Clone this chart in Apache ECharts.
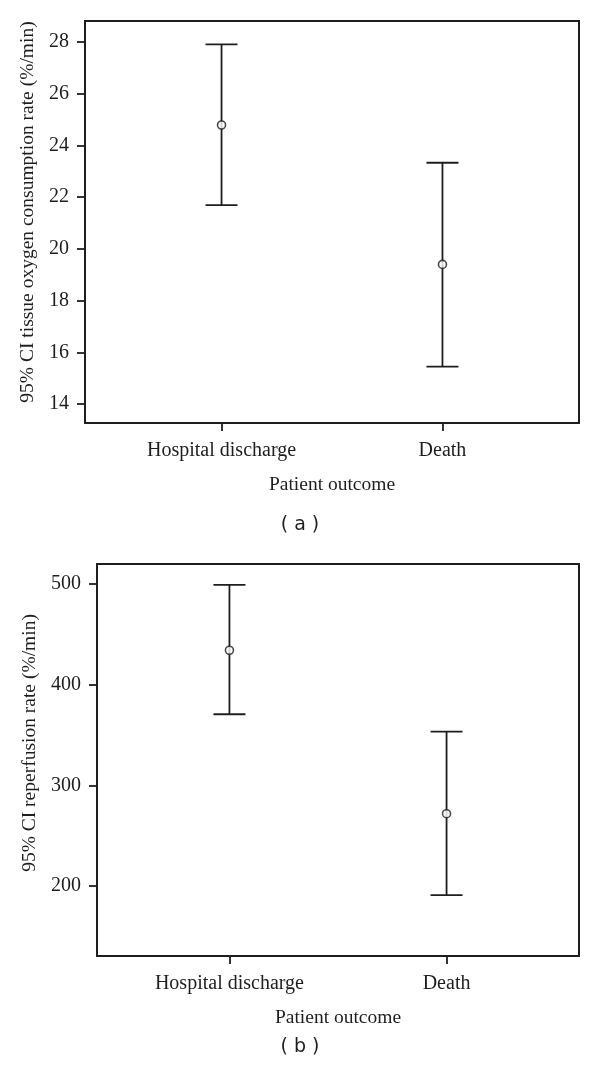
<!DOCTYPE html>
<html>
<head>
<meta charset="utf-8">
<script src="https://cdn.jsdelivr.net/npm/echarts@6/dist/echarts.min.js"></script>
<style>
html,body{margin:0;padding:0;background:#fff;}
#chart{width:600px;height:1075px;}
</style>
</head>
<body>
<div id="chart"></div>
<script>
// ---- data ----
const categories = ['Hospital discharge', 'Death'];
const catPositions = [1, 2];
// panel (a): tissue oxygen consumption rate (%/min)
const oxyLow  = [21.69, 15.45];
const oxyMean = [24.79, 19.40];
const oxyHigh = [27.91, 23.33];
const oxyTicks = [14, 16, 18, 20, 22, 24, 26, 28];
// panel (b): reperfusion rate (%/min)
const repLow  = [370.7, 191];
const repMean = [434.3, 271.9];
const repHigh = [499.3, 353.5];
const repTicks = [200, 300, 400, 500];

const captions = ['( a )', '( b )'];
const yTitles = ['95% CI tissue oxygen consumption rate (%/min)', '95% CI reperfusion rate (%/min)'];
const xTitle = 'Patient outcome';

// ---- styling ----
const INK = '#1e1e1e';
const SERIF = '"Liberation Serif", "DejaVu Serif", serif';
const FS = 20;
const NFS = 19.5;

function rows(low, mean, high) {
  return catPositions.map((x, i) => [x, low[i], mean[i], high[i]]);
}

function errorBarItem(params, api) {
  const x = api.value(0);
  const lo = api.coord([x, api.value(1)]);
  const hi = api.coord([x, api.value(3)]);
  const cap = 16;
  const style = { stroke: INK, lineWidth: 1.8 };
  return {
    type: 'group',
    children: [
      { type: 'line', shape: { x1: lo[0], y1: lo[1], x2: hi[0], y2: hi[1] }, style: style },
      { type: 'line', shape: { x1: hi[0] - cap, y1: hi[1], x2: hi[0] + cap, y2: hi[1] }, style: style },
      { type: 'line', shape: { x1: lo[0] - cap, y1: lo[1], x2: lo[0] + cap, y2: lo[1] }, style: style }
    ]
  };
}

function xAxisCfg(gridIndex, min, max) {
  return {
    gridIndex: gridIndex,
    type: 'value',
    min: min, max: max,
    name: xTitle,
    nameLocation: 'middle',
    nameGap: 52,
    nameTextStyle: { fontFamily: SERIF, fontSize: NFS, color: INK },
    axisLine: { show: true, onZero: false, lineStyle: { color: INK, width: 2 } },
    axisTick: { show: true, inside: false, length: 8, lineStyle: { color: INK, width: 1.8 }, customValues: catPositions },
    axisLabel: {
      show: true, margin: 18, fontFamily: SERIF, fontSize: FS, color: INK,
      customValues: catPositions,
      formatter: v => categories[catPositions.indexOf(Math.round(v))] || ''
    },
    splitLine: { show: false }
  };
}

function yAxisCfg(gridIndex, min, max, ticks, title, gap, shift) {
  return {
    gridIndex: gridIndex,
    type: 'value',
    min: min, max: max,
    name: title,
    nameLocation: 'middle',
    nameGap: gap,
    nameTextStyle: { fontFamily: SERIF, fontSize: NFS, color: INK, padding: [0, 0, 0, shift] },
    axisLine: { show: true, onZero: false, lineStyle: { color: INK, width: 2 } },
    axisTick: { show: true, inside: false, length: 8, lineStyle: { color: INK, width: 1.8 }, customValues: ticks },
    axisLabel: { show: true, margin: 16, fontFamily: SERIF, fontSize: FS, color: INK, customValues: ticks },
    splitLine: { show: false }
  };
}

const chart = echarts.init(document.getElementById('chart'), null, { renderer: 'canvas' });
chart.setOption({
  animation: false,
  backgroundColor: '#fff',
  grid: [
    { left: 85, right: 21, top: 21, height: 402, show: true, borderColor: INK, borderWidth: 2, containLabel: false },
    { left: 97, right: 21, top: 564, height: 392, show: true, borderColor: INK, borderWidth: 2, containLabel: false }
  ],
  xAxis: [
    xAxisCfg(0, 0.382, 2.618),
    xAxisCfg(1, 0.39, 2.61)
  ],
  yAxis: [
    yAxisCfg(0, 13.27, 28.81, oxyTicks, yTitles[0], 41, 20),
    yAxisCfg(1, 130.5, 520, repTicks, yTitles[1], 54, 34)
  ],
  series: [
    { type: 'custom', xAxisIndex: 0, yAxisIndex: 0, renderItem: errorBarItem, data: rows(oxyLow, oxyMean, oxyHigh), encode: { x: 0, y: [1, 3] }, z: 2 },
    { type: 'scatter', xAxisIndex: 0, yAxisIndex: 0, data: catPositions.map((x, i) => [x, oxyMean[i]]), symbol: 'circle', symbolSize: 8,
      itemStyle: { color: '#fff', borderColor: INK, borderWidth: 1.6 }, z: 3 },
    { type: 'custom', xAxisIndex: 1, yAxisIndex: 1, renderItem: errorBarItem, data: rows(repLow, repMean, repHigh), encode: { x: 0, y: [1, 3] }, z: 2 },
    { type: 'scatter', xAxisIndex: 1, yAxisIndex: 1, data: catPositions.map((x, i) => [x, repMean[i]]), symbol: 'circle', symbolSize: 8,
      itemStyle: { color: '#fff', borderColor: INK, borderWidth: 1.6 }, z: 3 }
  ],
  graphic: [
    { type: 'text', left: 'center', top: 516, style: { text: captions[0], font: '19px "DejaVu Sans", sans-serif', fill: INK } },
    { type: 'text', left: 'center', top: 1038, style: { text: captions[1], font: '19px "DejaVu Sans", sans-serif', fill: INK } }
  ]
});
</script>
</body>
</html>
